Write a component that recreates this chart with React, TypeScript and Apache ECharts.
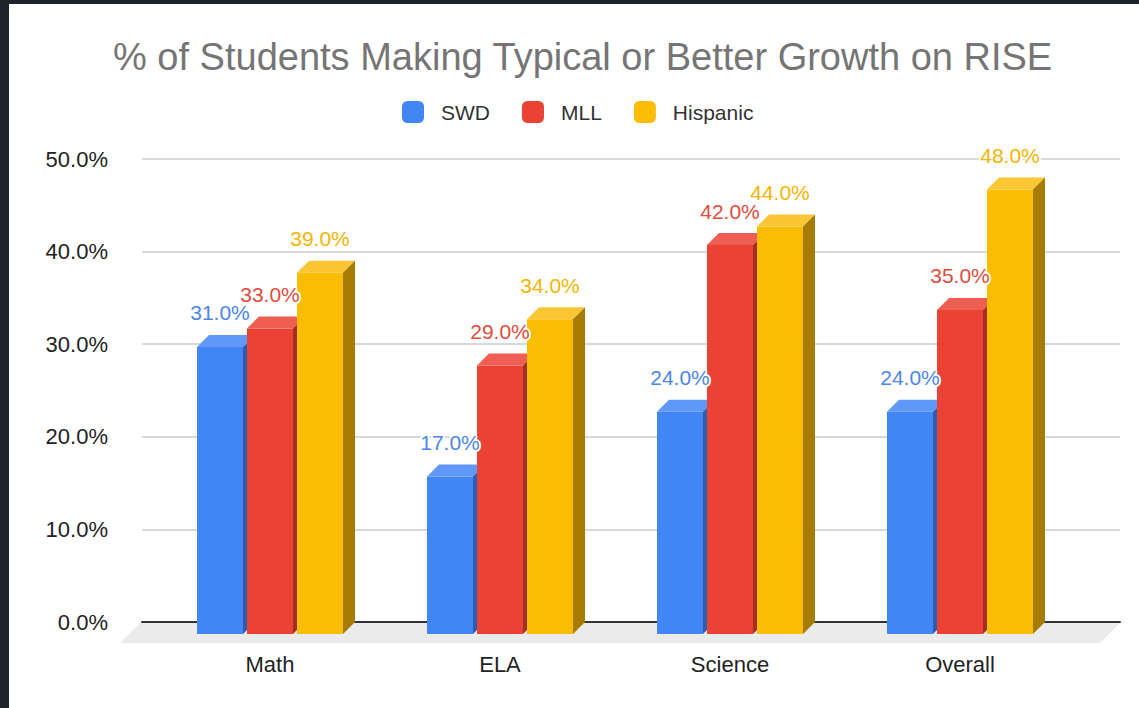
import React, { useEffect, useRef } from "react";
import * as echarts from "echarts";

const categories = ["Math", "ELA", "Science", "Overall"];
const seriesNames = ["SWD", "MLL", "Hispanic"];
const swdValues = [31, 17, 24, 24];
const mllValues = [33, 29, 42, 35];
const hispanicValues = [39, 34, 44, 48];
const yTicks = [0, 10, 20, 30, 40, 50];

const FONT = "'Liberation Sans', Arial, sans-serif";

const palette = [
  { front: "#4285F4", top: "#5F98F6", side: "#2D5DB0", label: "#4A86E8" },
  { front: "#EA4335", top: "#EE5E53", side: "#A32F22", label: "#E04B3E" },
  { front: "#FBBC04", top: "#FAC634", side: "#A67C03", label: "#F4B400" },
];

export default function App() {
  const ref = useRef<HTMLDivElement>(null);

  useEffect(() => {
    if (!ref.current) return;
    const chart = echarts.init(ref.current, undefined, { renderer: "svg" });
    const allValues = [swdValues, mllValues, hispanicValues];
    const BAR_W = 46;
    const STEP = 50;
    const DEPTH = 12;

    const series = allValues.map((vals, k) => ({
      type: "custom",
      name: seriesNames[k],
      xAxisIndex: 1,
      yAxisIndex: 1,
      itemStyle: { color: palette[k].front },
      encode: { x: 0, y: 1 },
      data: vals.map((v, i) => [i, v]),
      renderItem: (params: any, api: any) => {
        const i = api.value(0);
        const v = api.value(1);
        const base = api.coord([i, 0]);
        const top = api.coord([i, v]);
        const c = base[0];
        const x0 = c - 73 + k * STEP;
        const x1 = x0 + BAR_W;
        const yb = base[1];
        const yt = top[1];
        const col = palette[k];
        return {
          type: "group",
          children: [
            {
              type: "polygon",
              shape: { points: [[x0, yt + DEPTH], [x1, yt + DEPTH], [x1, yb + DEPTH], [x0, yb + DEPTH]] },
              style: { fill: col.front },
            },
            {
              type: "polygon",
              shape: { points: [[x0, yt + DEPTH], [x1, yt + DEPTH], [x1 + DEPTH, yt], [x0 + DEPTH, yt]] },
              style: { fill: col.top },
            },
            {
              type: "polygon",
              shape: { points: [[x1, yt + DEPTH], [x1 + DEPTH, yt], [x1 + DEPTH, yb], [x1, yb + DEPTH]] },
              style: { fill: col.side },
            },
            {
              type: "text",
              z2: 100,
              x: x0 + BAR_W / 2,
              y: yt - 22,
              style: {
                text: v.toFixed(1) + "%",
                fill: col.label,
                font: `21px ${FONT}`,
                align: "center",
                verticalAlign: "middle",
                stroke: "#ffffff",
                lineWidth: 4,
              },
            },
          ],
        };
      },
    }));

    chart.setOption({
      animation: false,
      backgroundColor: "#ffffff",
      title: {
        text: "% of Students Making Typical or Better Growth on RISE",
        left: 113,
        top: 38,
        padding: 0,
        textStyle: { fontFamily: FONT, fontSize: 38, fontWeight: "normal", color: "#757575" },
      },
      legend: {
        data: seriesNames,
        left: 402,
        top: 101,
        padding: 0,
        itemWidth: 22,
        itemHeight: 22,
        itemGap: 32,
        icon: "roundRect",
        textStyle: { fontFamily: FONT, fontSize: 21, color: "#333", padding: [0, 0, 0, 12] },
      },
      grid: [
        { left: 142, right: 19, top: 159, bottom: 86 },
        { left: 155, right: 64, top: 159, bottom: 86 },
      ],
      xAxis: [
        {
          type: "category",
          gridIndex: 0,
          data: categories,
          axisLine: { show: true, lineStyle: { color: "#333", width: 2 } },
          axisTick: { show: false },
          axisLabel: { show: false },
          splitLine: { show: false },
        },
        {
          type: "category",
          gridIndex: 1,
          data: categories,
          axisLine: { show: false },
          axisTick: { show: false },
          axisLabel: { margin: 31, fontFamily: FONT, fontSize: 22, color: "#222" },
          splitLine: { show: false },
        },
      ],
      yAxis: [
        {
          type: "value",
          gridIndex: 0,
          min: yTicks[0],
          max: yTicks[yTicks.length - 1],
          interval: 10,
          axisLine: { show: false },
          axisTick: { show: false },
          axisLabel: {
            margin: 34,
            fontFamily: FONT,
            fontSize: 22,
            color: "#222",
            formatter: (v: number) => v.toFixed(1) + "%",
          },
          splitLine: { lineStyle: { color: "#cccccc", width: 1.5 } },
        },
        {
          type: "value",
          gridIndex: 1,
          min: yTicks[0],
          max: yTicks[yTicks.length - 1],
          interval: 10,
          show: false,
          splitLine: { show: false },
        },
      ],
      graphic: [
        {
          type: "polygon",
          z: -10,
          shape: { points: [[140, 623], [1120, 623], [1100, 643], [120, 643]] },
          style: { fill: "#ebebeb" },
        },
        { type: "rect", z: 100, shape: { x: 0, y: 0, width: 9, height: 708 }, style: { fill: "#1e2428" } },
        { type: "rect", z: 100, shape: { x: 0, y: 0, width: 1139, height: 4 }, style: { fill: "#1e2428" } },
      ],
      series,
    });

    return () => chart.dispose();
  }, []);

  return (
    <div
      ref={ref}
      style={{ position: "fixed", left: 0, top: 0, width: 1139, height: 708, background: "#fff" }}
    />
  );
}
